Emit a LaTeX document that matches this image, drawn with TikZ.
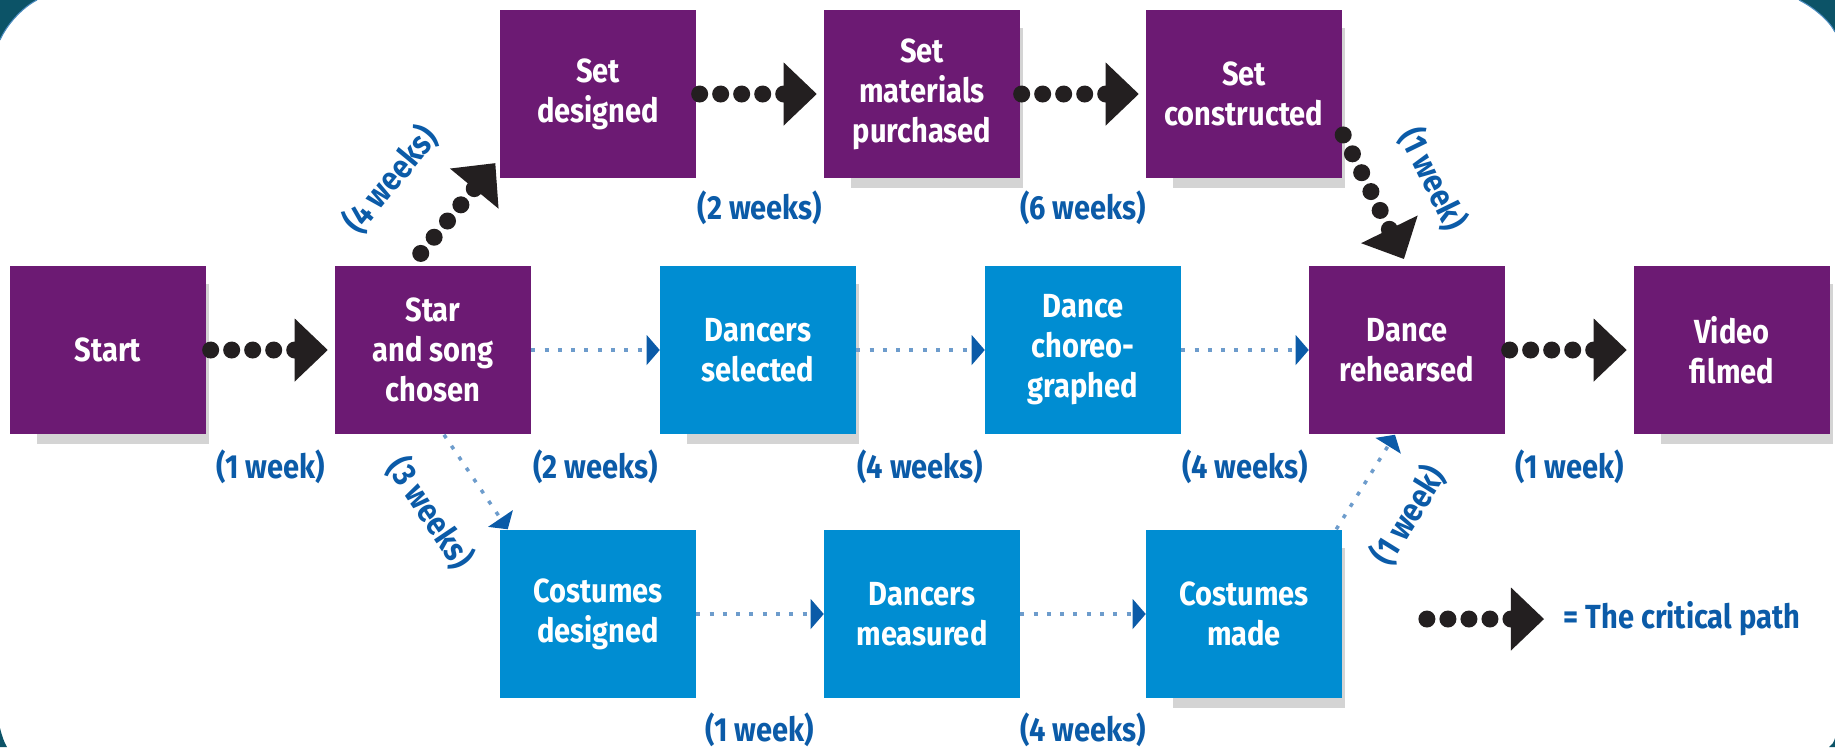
\documentclass[tikz,border=0pt]{standalone}
\usepackage{fontspec}
\setmainfont{Fira Sans}[FakeStretch=0.87]
\usetikzlibrary{arrows.meta}
\usetikzlibrary{backgrounds,positioning}
\usepackage{xcolor}

\definecolor{critpurple}{HTML}{6C1A73}
\definecolor{sideblue}{HTML}{008DD2}
\definecolor{weekblue}{HTML}{0B5BA8}
\definecolor{slackblue}{HTML}{6D9CCC}
\definecolor{critblack}{HTML}{231F20}
\definecolor{framegreen}{HTML}{0C5367}
\definecolor{frameedge}{HTML}{4C8CC0}
\definecolor{boxshadow}{HTML}{D4D4D4}

\newcommand\boxfont{\bfseries\fontsize{9.5}{11.4}\selectfont}

\begin{document}
\begin{tikzpicture}[x=0.01cm,y=-0.01cm]
      \useasboundingbox (0,0) rectangle (1835,747);
      \tikzstyle{task}=[rectangle,minimum width=1.95cm,minimum height=1.68cm,inner sep=0pt,align=center,text=white,font=\boxfont]
      \tikzstyle{crit}=[task,fill=critpurple]
      \tikzstyle{side}=[task,fill=sideblue]
      \tikzstyle{weeks}=[text=weekblue,font=\boxfont,inner sep=0pt]
      % drawn from the head end, so the dots line up behind the tip
      \tikzstyle{critpath}=[draw=critblack,line width=0.17cm,line cap=round,dash pattern=on 0pt off 0.21cm,
                            shorten <=0.07cm,shorten >=0.01cm,
                            {Triangle[length=0.33cm,width=0.63cm,line width=0pt]}-]
      \tikzstyle{slackpath}=[draw=slackblue,line width=0.035cm,dash pattern=on 0.04cm off 0.093cm,
                             -{Triangle[length=0.13cm,width=0.30cm,line width=0pt,fill=weekblue,color=weekblue]}]

      % middle row
      \node[crit] (start)     at (108,350)  {Start};
      \node[crit] (star)      at (433,350)  {Star\\and song\\chosen};
      \node[side] (dansel)    at (758,350)  {Dancers\\selected};
      \node[side] (choreo)    at (1083,350) {Dance\\choreo-\\graphed};
      \node[crit] (rehearsed) at (1407,350) {Dance\\rehearsed};
      \node[crit] (video)     at (1732,350) {Video\\filmed};
      % set row
      \node[crit] (setdes)    at (598,94)   {Set\\designed};
      \node[crit] (setmat)    at (922,94)   {Set\\materials\\purchased};
      \node[crit] (setcon)    at (1244,94)  {Set\\constructed};
      % costume row
      \node[side] (cosdes)    at (598,614)  {Costumes\\designed};
      \node[side] (danmeas)   at (922,614)  {Dancers\\measured};
      \node[side] (cosmade)   at (1244,614) {Costumes\\made};

      \draw[critpath] (star) -- (start) node[weeks,midway,yshift=-1.17cm] (w1) {(1 week)};
      \draw[critpath] ([yshift=0.21cm]setdes.south west) -- ([xshift=-0.22cm]star.north)
            node[weeks,pos=0.62,sloped,above=0.45cm] (w2) {(4 weeks)};
      \draw[critpath] (setmat) -- (setdes) node[weeks,midway,yshift=-1.14cm] (w3) {(2 weeks)};
      \draw[critpath] (setcon) -- (setmat) node[weeks,midway,yshift=-1.14cm] (w4) {(6 weeks)};
      \draw[critpath] (rehearsed.north) -- ([yshift=-0.39cm]setcon.east)
            node[weeks,pos=0.45,sloped,above=0.36cm] (w5) {(1 week)};
      \draw[critpath] (video) -- (rehearsed) node[weeks,midway,yshift=-1.17cm] (w6) {(1 week)};

      \draw[slackpath] (star) -- (dansel) node[weeks,midway,yshift=-1.17cm] (w7) {(2 weeks)};
      \draw[slackpath] (dansel) -- (choreo) node[weeks,midway,yshift=-1.17cm] (w8) {(4 weeks)};
      \draw[slackpath] (choreo) -- (rehearsed) node[weeks,midway,yshift=-1.17cm] (w9) {(4 weeks)};
      \draw[slackpath] ([xshift=0.11cm]star.south) -- ([xshift=0.08cm]cosdes.north west)
            node[weeks,midway,sloped,below=0.36cm] (w10) {(3 weeks)};
      \draw[slackpath] (cosdes) -- (danmeas) node[weeks,midway,yshift=-1.16cm] (w11) {(1 week)};
      \draw[slackpath] (danmeas) -- (cosmade) node[weeks,midway,yshift=-1.16cm] (w12) {(4 weeks)};
      \draw[slackpath] ([xshift=-0.06cm]cosmade.north east) -- ([xshift=-0.12cm]rehearsed.south)
            node[weeks,pos=0.45,sloped,below=0.35cm] (w13) {(1 week)};

      % key
      \coordinate (keyfrom) at (1418,619);
      \coordinate (keyto)   at (1551,619);
      \draw[critpath] (keyto) -- (keyfrom);
      \node[weeks,right=0.12cm of keyto] (keytext) {= The critical path};

      % frame corners
      \fill[framegreen] (0,0) -- (37,0) .. controls (23,7) and (7,24) .. (0,40) -- cycle;
      \fill[framegreen] (1835,0) -- (1799,0) .. controls (1813,7) and (1829,20) .. (1835,32) -- cycle;
      \fill[framegreen] (0,747) -- (0,728) .. controls (2,736) and (4,742) .. (7,747) -- cycle;
      \fill[framegreen] (1835,747) -- (1835,738) .. controls (1834,742) and (1832,745) .. (1829,747) -- cycle;
      \draw[frameedge,line width=0.3pt] (37,0) .. controls (23,7) and (7,24) .. (0,40);
      \draw[frameedge,line width=0.3pt] (1799,0) .. controls (1813,7) and (1829,20) .. (1835,32);

      \begin{scope}[on background layer]
        \fill[white] (0,0) rectangle (1835,747);
        \foreach \n in {start,dansel,video,setmat,setcon,cosmade}
          \fill[boxshadow] ([xshift=0.27cm,yshift=-0.09cm]\n.south west) rectangle ([xshift=0.03cm,yshift=-0.19cm]\n.north east);
      \end{scope}
    \end{tikzpicture}
\end{document}
